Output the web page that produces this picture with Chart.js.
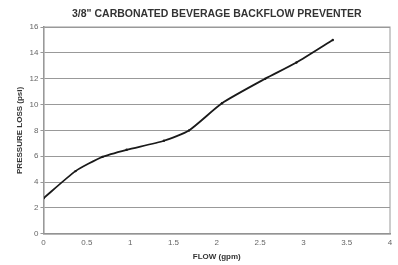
<!DOCTYPE html>
<html lang="en">
<head>
  <meta charset="UTF-8">
  <title>3/8" Carbonated Beverage Backflow Preventer</title>
  <script src="https://cdn.jsdelivr.net/npm/chart.js"></script>
  <style>
    * { box-sizing: border-box; }
    body { margin: 0; background: #fff; }
    #wrap { width: 398px; height: 265px; }
  </style>
</head>
<body>
  <div id="wrap"><canvas id="c" width="398" height="265"></canvas></div>
  <script>
    // Values
    const flow = [0, 0.37, 0.68, 0.96, 1.39, 1.68, 2.06, 2.56, 2.92, 3.34];
    const pressureLoss = [2.75, 4.85, 5.95, 6.5, 7.2, 8.0, 10.1, 12.0, 13.25, 15.0];
    const xTicks = [0, 0.5, 1, 1.5, 2, 2.5, 3, 3.5, 4];
    const yTicks = [0, 2, 4, 6, 8, 10, 12, 14, 16];
    const titleText = '3/8" CARBONATED BEVERAGE BACKFLOW PREVENTER';

    const font = "'Liberation Sans', Arial, sans-serif";
    const pts = flow.map((x, i) => ({ x, y: pressureLoss[i] }));

    new Chart(document.getElementById('c'), {
      type: 'scatter',
      data: { datasets: [{ data: pts, showLine: true, borderColor: '#1a1a1a', borderWidth: 1.8, tension: 0.2,
        pointRadius: 1.2, pointBackgroundColor: '#1a1a1a', pointBorderWidth: 0 }] },
      options: {
        responsive: false, animation: false,
        layout: { padding: { top: 27, right: 8, left: 15, bottom: 3 } },
        plugins: { legend: { display: false }, tooltip: { enabled: false } },
        scales: {
          x: { type: 'linear', min: 0, max: 4,
            afterBuildTicks: a => { a.ticks = xTicks.map(v => ({ value: v })); },
            grid: { display: false, drawTicks: false },
            border: { color: '#888', width: 1.5 },
            ticks: { color: '#666', font: { family: font, size: 8 }, padding: 4, callback: v => v },
            title: { display: true, text: 'FLOW (gpm)', color: '#333', font: { family: font, size: 8, weight: 'bold' }, padding: { top: 1, bottom: 0 } } },
          y: { min: 0, max: 16,
            afterBuildTicks: a => { a.ticks = yTicks.map(v => ({ value: v })); },
            grid: { color: '#999', lineWidth: 1, tickLength: 3 },
            border: { color: '#888', width: 1.5 },
            ticks: { color: '#666', font: { family: font, size: 8 }, padding: 2 },
            title: { display: true, text: 'PRESSURE LOSS (psi)', color: '#333', font: { family: font, size: 8, weight: 'bold' }, padding: { top: 0, bottom: 3 } } }
        }
      },
      plugins: [{
        id: 'frameAndTitle',
        afterDraw(chart) {
          const { ctx, chartArea: a } = chart;
          ctx.save(); ctx.strokeStyle = '#999'; ctx.lineWidth = 1;
          ctx.strokeRect(a.left, a.top, a.right - a.left, a.bottom - a.top);
          ctx.fillStyle = '#333'; ctx.font = 'bold 10.5px ' + font;
          ctx.textAlign = 'center'; ctx.textBaseline = 'middle';
          ctx.fillText(titleText, (a.left + a.right) / 2, 14);
          ctx.restore();
        }
      }]
    });
  </script>
</body>
</html>
